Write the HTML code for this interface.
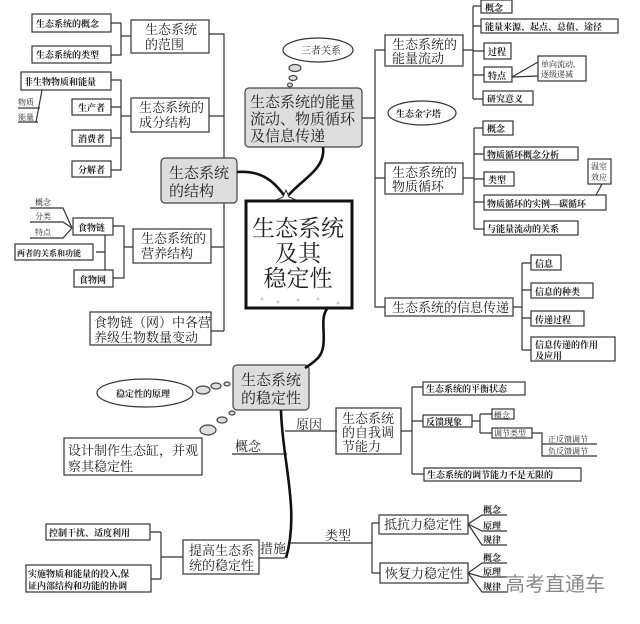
<!DOCTYPE html>
<html><head><meta charset="utf-8"><style>
html,body{margin:0;padding:0;background:#fff;}
svg{display:block;}
text{font-family:"Liberation Serif","Noto Serif CJK SC",serif;fill:#222;}
.s{font-size:9px;font-weight:bold;}
.m{font-size:13px;}
.t{font-size:8px;}
</style></head><body>
<svg width="640" height="624" viewBox="0 0 640 624" xmlns="http://www.w3.org/2000/svg">
<g fill="none" stroke="#333" stroke-width="1.2">
<!-- left top structure -->
<path d="M111 23H121V55H111M121 36H131"/>
<rect x="32" y="14" width="79" height="18"/><rect x="32" y="46" width="79" height="17"/>
<rect x="131" y="20" width="78" height="33"/>
<path d="M209 34H224V331M209 116H224M211 247H224M211 331H224"/>
<rect x="21" y="72" width="90" height="18"/><rect x="72" y="99" width="39" height="16"/>
<rect x="72" y="130" width="39" height="16"/><rect x="72" y="161" width="39" height="16"/>
<path d="M111 80H121V170H111M111 107H121M111 138H121M121 116H131"/>
<rect x="131" y="98" width="78" height="34"/>
<path d="M42 90L36 122M18 108H40M18 122H38"/>
<path d="M30 208H63L72 228M30 222H63L72 228M30 238H63L72 228"/>
<rect x="73" y="218" width="40" height="17"/><rect x="15" y="244" width="78" height="16"/><rect x="74" y="270" width="39" height="17"/>
<path d="M105 235V270M105 252H96M113 226H124V278H113M124 247H133"/>
<rect x="133" y="229" width="78" height="34"/>
<rect x="90" y="312" width="121" height="33"/>
<!-- right -->
<path d="M362 118H375V50H385M375 118V307H385M375 178H385"/>
<rect x="385" y="35" width="78" height="31"/>
<path d="M463 50H473M473 6V99M473 6H481M473 26H481M473 51H484M473 75H484M473 99H483"/>
<rect x="481" y="0" width="31" height="13"/><rect x="481" y="19" width="137" height="14"/>
<rect x="484" y="43" width="27" height="16"/><rect x="484" y="67" width="28" height="15"/><rect x="483" y="91" width="50" height="14"/>
<rect x="538" y="56" width="48" height="25"/><path d="M512 77L538 62M512 77L538 76"/>
<ellipse cx="422" cy="113" rx="34" ry="12"/>
<rect x="385" y="163" width="78" height="31"/>
<path d="M463 178H474M474 128V229M474 128H483M474 154H484M474 179H484M474 202H484M474 229H484"/>
<rect x="483" y="121" width="30" height="14"/><rect x="484" y="147" width="94" height="13"/><rect x="484" y="172" width="30" height="14"/>
<rect x="484" y="195" width="122" height="15"/><rect x="484" y="221" width="94" height="14"/>
<rect x="588" y="159" width="23" height="25"/><path d="M602 184L596 195"/>
<rect x="385" y="298" width="128" height="18"/>
<path d="M513 307H522M522 263V350M522 263H531M522 290H531M522 318H531M522 350H531"/>
<rect x="531" y="255" width="30" height="15"/><rect x="531" y="283" width="62" height="15"/><rect x="531" y="311" width="53" height="15"/><rect x="531" y="337" width="84" height="24"/>
<!-- bubbles -->
<ellipse cx="318" cy="50" rx="35" ry="12"/>
<ellipse cx="145" cy="393" rx="48" ry="14"/>
<rect x="64" y="438" width="138" height="37"/>
<!-- bottom right -->
<path d="M285 431H337M232 454H287"/>
<rect x="336" y="408" width="65" height="46"/>
<path d="M401 431H412M412 387V474M412 387H423M412 421H423M412 474H424"/>
<rect x="423" y="382" width="102" height="13"/><rect x="423" y="415" width="49" height="12"/>
<path d="M472 421H480M480 414V433M480 414H492M480 433H492"/>
<rect x="492" y="409" width="22" height="10"/><rect x="492" y="428" width="40" height="10"/>
<path d="M532 433H542V456H597M542 444H597"/>
<rect x="424" y="468" width="157" height="13"/>
<path d="M290 543H372M372 523V573M372 523H379M372 573H380"/>
<rect x="379" y="515" width="89" height="19"/><rect x="380" y="563" width="88" height="20"/>
<path d="M468 524L482 515H507M468 524L482 531H507M468 524L482 545H507"/>
<path d="M468 573L482 563H507M468 573L482 577H507M468 573L482 592H507"/>
<path d="M259 558H285M161 532V579M150 532H161M151 579H161M161 557H183"/>
<rect x="183" y="540" width="76" height="34"/>
<rect x="46" y="524" width="104" height="16"/><rect x="26" y="565" width="125" height="27"/>
</g>
<!-- gray boxes -->
<g fill="#ddd" stroke="#444" stroke-width="1.2">
<rect x="245" y="88" width="117" height="59" rx="4"/>
<rect x="161" y="158" width="76" height="45" rx="4"/>
<rect x="233" y="365" width="76" height="45" rx="4"/>
<ellipse cx="295" cy="68" rx="6" ry="3.5"/><ellipse cx="293" cy="78" rx="4" ry="2.5"/><ellipse cx="290" cy="85" rx="2.5" ry="1.8"/>
<ellipse cx="203" cy="390" rx="7" ry="4"/><ellipse cx="216" cy="386" rx="5" ry="3"/><ellipse cx="227" cy="384" rx="3" ry="2"/>
<ellipse cx="208" cy="430" rx="8" ry="5"/><ellipse cx="222" cy="420" rx="5" ry="3"/><ellipse cx="232" cy="413" rx="3" ry="2"/>
</g>
<!-- thick curves -->
<g fill="none" stroke="#111" stroke-width="2.6">
<path d="M237 172C262 170 275 182 286 198"/>
<path d="M323 147C326 170 300 180 286 198"/>
<path d="M327 309C318 320 330 345 318 358C312 364 308 366 305 368"/>
<path d="M281 410C282 460 300 510 286 558"/>
</g>
<path d="M286 190L289 197L296 200L289 203L286 210L283 203L276 200L283 197Z" fill="#fff" stroke="#333"/>
<rect x="246" y="201" width="106" height="107" fill="#fff" stroke="#111" stroke-width="3"/>
<g fill="#ccc"><circle cx="262" cy="299" r="1.5"/><circle cx="278" cy="302" r="1.5"/><circle cx="298" cy="300" r="1.5"/><circle cx="318" cy="299" r="1.5"/><circle cx="338" cy="303" r="1.5"/></g>
<!-- texts -->
<g class="s">
<text x="36" y="27">生态系统的概念</text><text x="36" y="58">生态系统的类型</text>
<text x="24" y="85">非生物物质和能量</text><text x="78" y="111">生产者</text><text x="78" y="142">消费者</text><text x="78" y="173">分解者</text>
<text x="78" y="231">食物链</text><text x="17" y="256" style="font-size:8px">两者的关系和功能</text><text x="79" y="283">食物网</text>
<text x="485" y="11">概念</text><text x="485" y="30">能量来源、起点、总值、途径</text><text x="488" y="55">过程</text><text x="488" y="79">特点</text><text x="487" y="102">研究意义</text>
<text x="487" y="132">概念</text><text x="487" y="158">物质循环概念分析</text><text x="488" y="183">类型</text><text x="487" y="207">物质循环的实例—碳循环</text><text x="487" y="232">与能量流动的关系</text>
<text x="535" y="267">信息</text><text x="535" y="295">信息的种类</text><text x="535" y="323">传递过程</text><text x="535" y="348">信息传递的作用</text><text x="535" y="359">及应用</text>
<text x="396" y="117">生态金字塔</text><text x="116" y="397">稳定性的原理</text>
<text x="426" y="392">生态系统的平衡状态</text><text x="426" y="425">反馈现象</text><text x="427" y="478">生态系统的调节能力不是无限的</text>
<text x="49" y="536">控制干扰、适度利用</text><text x="28" y="577">实施物质和能量的投入,保</text><text x="28" y="589">证内部结构和功能的协调</text>
<text x="483" y="513">概念</text><text x="483" y="529">原理</text><text x="483" y="543">规律</text>
<text x="483" y="561">概念</text><text x="483" y="575">原理</text><text x="483" y="590">规律</text>
</g>
<g class="t">
<text x="18" y="105">物质</text><text x="18" y="120">能量</text>
<text x="35" y="205">概念</text><text x="35" y="219">分类</text><text x="35" y="235">特点</text>
<text x="541" y="67">单向流动,</text><text x="541" y="77">逐级递减</text>
<text x="591" y="169">温室</text><text x="591" y="180">效应</text>
<text x="494" y="418">概念</text><text x="494" y="436">调节类型</text><text x="548" y="442">正反馈调节</text><text x="548" y="454">负反馈调节</text>
</g>
<g class="m">
<text x="145" y="34">生态系统</text><text x="145" y="49">的范围</text>
<text x="139" y="112">生态系统的</text><text x="139" y="127">成分结构</text>
<text x="141" y="243">生态系统的</text><text x="141" y="258">营养结构</text>
<text x="94" y="327">食物链（网）中各营</text><text x="94" y="342">养级生物数量变动</text>
<text x="392" y="49">生态系统的</text><text x="392" y="63">能量流动</text>
<text x="392" y="177">生态系统的</text><text x="392" y="191">物质循环</text>
<text x="392" y="312">生态系统的信息传递</text>
<text x="68" y="455">设计制作生态缸，并观</text><text x="68" y="471">察其稳定性</text>
<text x="296" y="429">原因</text><text x="235" y="451">概念</text><text x="325" y="540">类型</text><text x="260" y="553">措施</text>
<text x="342" y="423">生态系统</text><text x="342" y="437">的自我调</text><text x="342" y="451">节能力</text>
<text x="384" y="529">抵抗力稳定性</text><text x="385" y="578">恢复力稳定性</text>
<text x="189" y="555">提高生态系</text><text x="189" y="570">统的稳定性</text>
<text x="301" y="54" style="font-size:10px">三者关系</text>
</g>
<g style="font-size:15px">
<text x="250" y="107">生态系统的能量</text><text x="250" y="124">流动、物质循环</text><text x="250" y="141">及信息传递</text>
<text x="169" y="178">生态系统</text><text x="169" y="196">的结构</text>
<text x="241" y="385">生态系统</text><text x="241" y="403">的稳定性</text>
</g>
<g style="font-size:23px" text-anchor="middle">
<text x="298" y="236">生态系统</text><text x="298" y="261">及其</text><text x="298" y="286">稳定性</text>
</g>
<text x="505" y="591" style="font-size:20px;fill:#888;font-family:'Liberation Sans','Noto Sans CJK SC',sans-serif">高考直通车</text>
</svg>
</body></html>
